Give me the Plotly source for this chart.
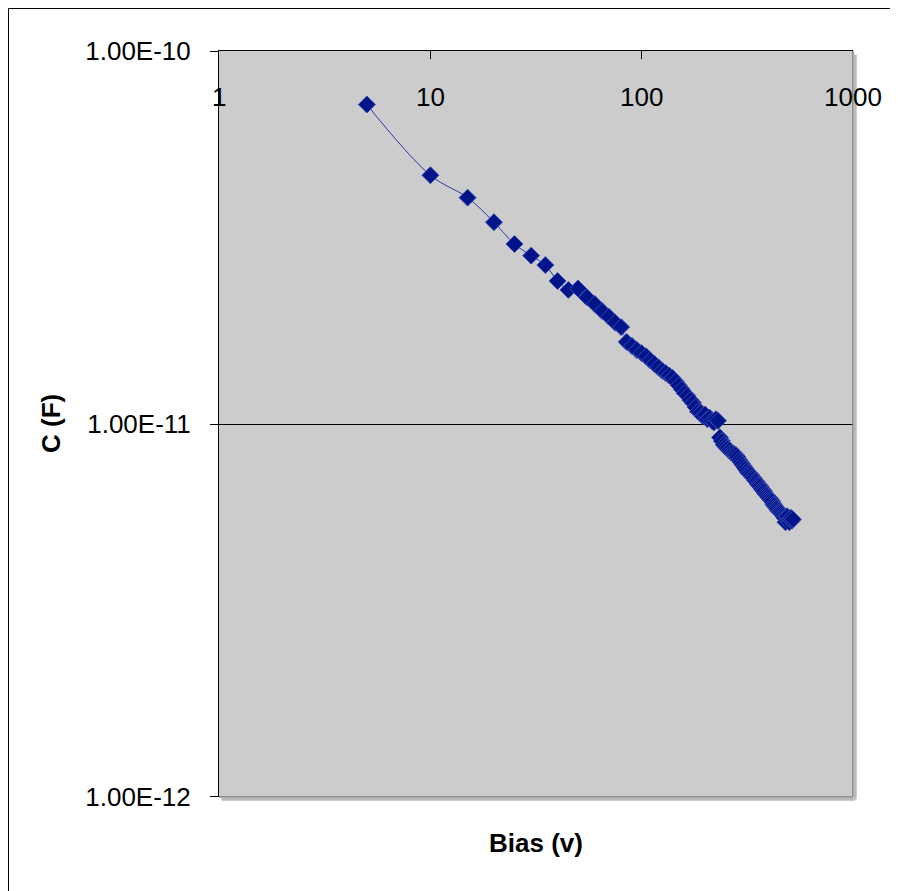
import math
import plotly.graph_objects as go

bias_v = [5, 10, 15, 20, 25, 30, 35, 40, 45, 50, 55, 60, 65, 70, 75, 80, 85, 90, 95, 100,
          105, 110, 115, 120, 125, 130, 135, 140, 145, 150, 155, 160, 165, 170, 175, 180, 185, 190, 195, 200,
          205, 210, 215, 220, 225, 230, 235, 240, 245, 250, 255, 260, 265, 270, 275, 280, 285, 290, 295, 300,
          305, 310, 315, 320, 325, 330, 335, 340, 345, 350, 355, 360, 365, 370, 375, 380, 385, 390, 395, 400,
          405, 410, 415, 420, 425, 430, 435, 440, 445, 450, 455, 460, 465, 470, 475, 480, 485, 490, 495, 500,
          505, 510, 515, 520]

cap_f = [72e-12, 46.5e-12, 40.5e-12, 34.8e-12, 30.4e-12, 28.3e-12, 26.7e-12, 24.2e-12, 22.9e-12, 23.1e-12,
         21.9e-12, 21.0e-12, 20.1e-12, 19.4e-12, 18.7e-12, 18.2e-12, 16.6e-12, 16.2e-12, 15.8e-12, 15.5e-12,
         15.2e-12, 14.8e-12, 14.5e-12, 14.2e-12, 13.9e-12, 13.7e-12, 13.5e-12, 13.3e-12, 13.0e-12, 12.7e-12,
         12.4e-12, 12.1e-12, 11.9e-12, 11.6e-12, 11.4e-12, 11.1e-12, 10.8e-12, 10.7e-12, 10.5e-12, 10.6e-12,
         10.3e-12, 10.4e-12, 10.2e-12, 10.1e-12, 10.3e-12, 10.2e-12, 9.2e-12, 9.0e-12, 8.8e-12, 8.7e-12,
         8.6e-12, 8.5e-12, 8.4e-12, 8.35e-12, 8.3e-12, 8.25e-12, 8.15e-12, 8.0e-12, 7.9e-12, 7.8e-12,
         7.7e-12, 7.6e-12, 7.5e-12, 7.4e-12, 7.35e-12, 7.3e-12, 7.2e-12, 7.15e-12, 7.05e-12, 7.0e-12,
         6.9e-12, 6.85e-12, 6.8e-12, 6.7e-12, 6.65e-12, 6.6e-12, 6.5e-12, 6.45e-12, 6.4e-12, 6.35e-12,
         6.3e-12, 6.25e-12, 6.2e-12, 6.1e-12, 6.05e-12, 6.0e-12, 5.95e-12, 5.9e-12, 5.85e-12, 5.8e-12,
         5.8e-12, 5.75e-12, 5.7e-12, 5.65e-12, 5.6e-12, 5.45e-12, 5.65e-12, 5.65e-12, 5.5e-12, 5.45e-12,
         5.55e-12, 5.6e-12, 5.5e-12, 5.55e-12]

x_ticks = [1, 10, 100, 1000]
x_tick_labels = ["1", "10", "100", "1000"]
y_ticks = [1e-12, 1e-11, 1e-10]
y_tick_labels = ["1.00E-12", "1.00E-11", "1.00E-10"]

font = "Liberation Sans, Arial, sans-serif"

# page body has an 8px margin; figure is sized/offset to compensate
FIG_W, FIG_H = 890, 883
PL, PT = 211, 43          # plot-area left/top inside the figure
PW, PH = 634, 746         # plot-area size

fig = go.Figure()
fig.add_trace(go.Scatter(
    x=bias_v, y=cap_f, mode="lines+markers",
    line=dict(color="#2a3aa8", width=1, shape="spline"),
    marker=dict(symbol="diamond", size=13, color="#001489",
                line=dict(color="#3545b0", width=1)),
    showlegend=False,
))

fig.update_layout(
    width=FIG_W, height=FIG_H, autosize=False,
    margin=dict(l=PL, r=FIG_W - PL - PW, t=PT, b=FIG_H - PT - PH, autoexpand=False),
    paper_bgcolor="white", plot_bgcolor="#CCCCCC",
    font=dict(family=font, size=26, color="black"),
    xaxis=dict(
        type="log", range=[-0.001, 3.001], side="top",
        tickvals=x_ticks, ticktext=x_tick_labels, showticklabels=False,
        ticks="inside", ticklen=8, tickcolor="black",
        showline=True, linecolor="black", linewidth=1,
        showgrid=False, zeroline=False, title=None,
    ),
    yaxis=dict(
        type="log", range=[-12.001, -9.999],
        tickvals=y_ticks, ticktext=y_tick_labels,
        ticks="outside", ticklen=8, tickcolor="black",
        ticklabelstandoff=14,
        showline=True, linecolor="black", linewidth=1,
        showgrid=True, gridcolor="black", gridwidth=1,
        zeroline=False,
        tickfont=dict(size=26, color="black", family=font),
        title=None,
    ),
)

# x tick labels drawn just below the top axis line, inside the plot area
for xv, lab in zip(x_ticks, x_tick_labels):
    fig.add_annotation(text=lab, x=math.log10(xv), xref="x", y=(797 - 97) / 746, yref="paper",
                       showarrow=False, xanchor="center", yanchor="middle",
                       font=dict(size=26, color="black", family=font))

# plot-area border / shadow on right and bottom
fig.add_shape(type="line", xref="paper", yref="paper", x0=1, x1=1, y0=0, y1=1,
              line=dict(color="#808080", width=1.5))
fig.add_shape(type="line", xref="paper", yref="paper", x0=0, x1=1, y0=0, y1=0,
              line=dict(color="#808080", width=1.5))
fig.add_shape(type="line", xref="paper", yref="paper", x0=1 + 2.2 / PW, x1=1 + 2.2 / PW,
              y0=-2.2 / PH, y1=0.995, line=dict(color="#BBBBBB", width=3))
fig.add_shape(type="line", xref="paper", yref="paper", x0=0.004, x1=1 + 2.2 / PW,
              y0=-2.2 / PH, y1=-2.2 / PH, line=dict(color="#BBBBBB", width=3))

# outer chart border (only left and top edges fall inside the view)
fig.add_shape(type="line", xref="paper", yref="paper",
              x0=(0.5 - PL) / PW, x1=(0.5 - PL) / PW,
              y0=-(FIG_H - PT - PH) / PH, y1=(PT + PH - 0.5) / PH,
              line=dict(color="black", width=1))
fig.add_shape(type="line", xref="paper", yref="paper",
              x0=(0.5 - PL) / PW, x1=(FIG_W - PL) / PW,
              y0=(PT + PH - 0.5) / PH, y1=(PT + PH - 0.5) / PH,
              line=dict(color="black", width=1))

# axis titles
fig.add_annotation(text="<b>Bias (v)</b>", xref="paper", yref="paper",
                   x=0.5, y=(797 - 843) / 746, showarrow=False,
                   font=dict(size=26, family=font, color="black"),
                   xanchor="center", yanchor="middle")
fig.add_annotation(text="<b>C (F)</b>", xref="paper", yref="paper",
                   x=(51 - 219) / 634, y=0.5, showarrow=False, textangle=-90,
                   font=dict(size=26, family=font, color="black"),
                   xanchor="center", yanchor="middle")

fig.write_html("out.html")
